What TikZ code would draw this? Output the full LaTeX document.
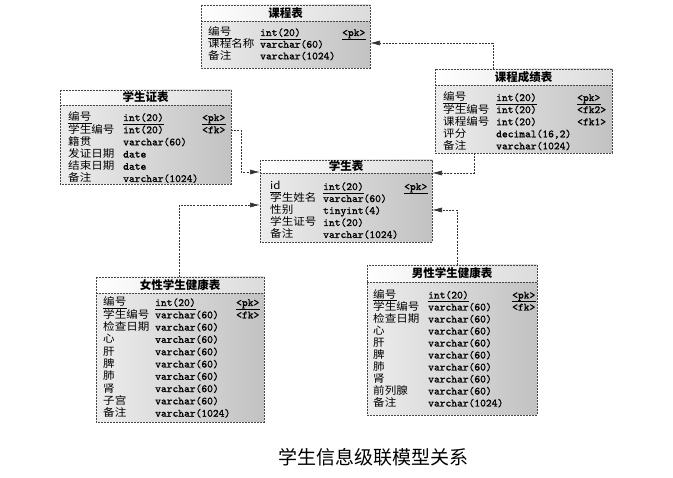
\documentclass[tikz,border=0pt]{standalone}
\usepackage{fontspec}
\setmainfont{Liberation Serif}
\setmonofont{Latin Modern Mono}[FakeBold=1.2]
\newfontfamily\cjk{Noto Sans CJK SC}
\newfontfamily\cjkrow{Noto Sans CJK SC}[FakeStretch=1.1]
\usetikzlibrary{arrows.meta}

\tikzset{
  x=1pt, y=-1pt,
  tablebody/.style={inner sep=0pt, outer sep=0pt, left color=gray!14, right color=gray!48},
  tablehead/.style={left color=white, right color=gray!28},
  tableborder/.style={draw=gray!55!black, line width=0.6pt, dash pattern=on 2pt off 1pt},
  titletext/.style={font=\cjk\fontsize{11.5}{12}\selectfont\bfseries, inner sep=0pt},
  cname/.style={anchor=base west, inner sep=0pt, font=\cjkrow\fontsize{10.5}{12}\selectfont},
  ctype/.style={anchor=base west, inner sep=0pt, font=\ttfamily\fontsize{11}{12}\selectfont},
  keyline/.style={draw=black, line width=0.5pt},
  conn/.style={draw=gray!40!black, line width=0.6pt, dash pattern=on 2pt off 1.2pt,
    -{Latex[length=10pt,width=5pt]}},
  caption/.style={inner sep=0pt, font=\cjk\fontsize{19}{20}\selectfont},
}

% table frame: name, left, top, right, bottom, header rule, title
\newcommand{\ertable}[7]{%
  \node[tablebody, anchor=north west, minimum width={(#4-#2)*1pt},
        minimum height={(#5-#3)*1pt}] (#1) at (#2,#3) {};
  \shade[tablehead] (#2,#3) rectangle (#4,#6);
  \draw[tableborder] (#1.north west) rectangle (#1.south east);
  \draw[tableborder] (#2,#6) -- (#4,#6);
  \node[titletext] (#1-title) at ({(#2+#4)/2},{(#3+#6)/2}) {#7};
}

% column rows: table, first baseline, pitch, x name, x type, x key, list;
% the first row is the primary key and is underlined
\newcommand{\errows}[7]{%
  \foreach \n/\t/\k [count=\i] in {#7} {
    \node[cname] (#1-n\i) at (#4,{#2+(\i-1)*#3}) {\n};
    \node[ctype] (#1-t\i) at (#5,{#2+(\i-1)*#3}) {\t};
    \node[ctype] (#1-k\i) at (#6,{#2+(\i-1)*#3}) {\k};
  }
  \foreach \c/\d in {n/1.9,t/2.8,k/2.8}
    \draw[keyline] ([yshift=-\d pt]#1-\c1.base west) -- ([yshift=-\d pt]#1-\c1.base east);
}

\begin{document}
\begin{tikzpicture}
\fill[white] (0,0) rectangle (673,478);
\useasboundingbox (0,0) rectangle (673,478);

% 课程表
\ertable{kc}{201}{5}{370}{68}{21}{课程表}
\errows{kc}{36}{11.7}{208}{260}{342}{%
  编号/int(20)/<pk>,
  课程名称/varchar(60)/,
  备注/varchar(1024)/}

% 学生证表
\ertable{xszb}{60}{90}{231}{184}{105}{学生证表}
\errows{xszb}{121}{12.2}{68}{123}{202}{%
  编号/int(20)/<pk>,
  学生编号/int(20)/<fk>,
  籍贯/varchar(60)/,
  发证日期/date/,
  结束日期/date/,
  备注/varchar(1024)/}

% 课程成绩表
\ertable{kccj}{435}{69}{612}{153}{85}{课程成绩表}
\errows{kccj}{101}{12.1}{443}{496}{577}{%
  编号/int(20)/<pk>,
  学生编号/int(20)/<fk2>,
  课程编号/int(20)/<fk1>,
  评分/{decimal(16,2)}/,
  备注/varchar(1024)/}

% 学生表
\ertable{xsb}{260}{160}{432}{242}{173}{学生表}
\errows{xsb}{190}{12}{270}{323}{404}{%
  id/int(20)/<pk>,
  学生姓名/varchar(60)/,
  性别/tinyint(4)/,
  学生证号/int(20)/,
  备注/varchar(1024)/}

% 女性学生健康表
\ertable{nx}{96}{277}{264}{422}{293}{女性学生健康表}
\errows{nx}{306}{12.3}{103}{155}{236}{%
  编号/int(20)/<pk>,
  学生编号/varchar(60)/<fk>,
  检查日期/varchar(60)/,
  心/varchar(60)/,
  肝/varchar(60)/,
  脾/varchar(60)/,
  肺/varchar(60)/,
  肾/varchar(60)/,
  子宫/varchar(60)/,
  备注/varchar(1024)/}

% 男性学生健康表
\ertable{nan}{367}{265}{537}{415}{282}{男性学生健康表}
\errows{nan}{298.5}{12}{373}{428}{512}{%
  编号/int(20)/<pk>,
  学生编号/varchar(60)/<fk>,
  检查日期/varchar(60)/,
  心/varchar(60)/,
  肝/varchar(60)/,
  脾/varchar(60)/,
  肺/varchar(60)/,
  肾/varchar(60)/,
  前列腺/varchar(60)/,
  备注/varchar(1024)/}

% references
\coordinate (c1) at (493,43);
\draw[conn] (kccj.north -| c1) |- (kc.east |- c1);

\coordinate (c2a) at (241,130);
\coordinate (c2b) at (241,172);
\draw[conn] (xszb.east |- c2a) -- (c2a) -- (c2b) -- (xsb.west |- c2b);

\coordinate (c3) at (474,173);
\draw[conn] (kccj.south -| c3) |- (xsb.east |- c3);

\coordinate (c4) at (179,205);
\draw[conn] (nx.north -| c4) |- (xsb.west |- c4);

\coordinate (c5) at (457,210);
\draw[conn] (nan.north -| c5) |- (xsb.east |- c5);

\node[caption] (cap) at (373,457) {学生信息级联模型关系};
\end{tikzpicture}
\end{document}
